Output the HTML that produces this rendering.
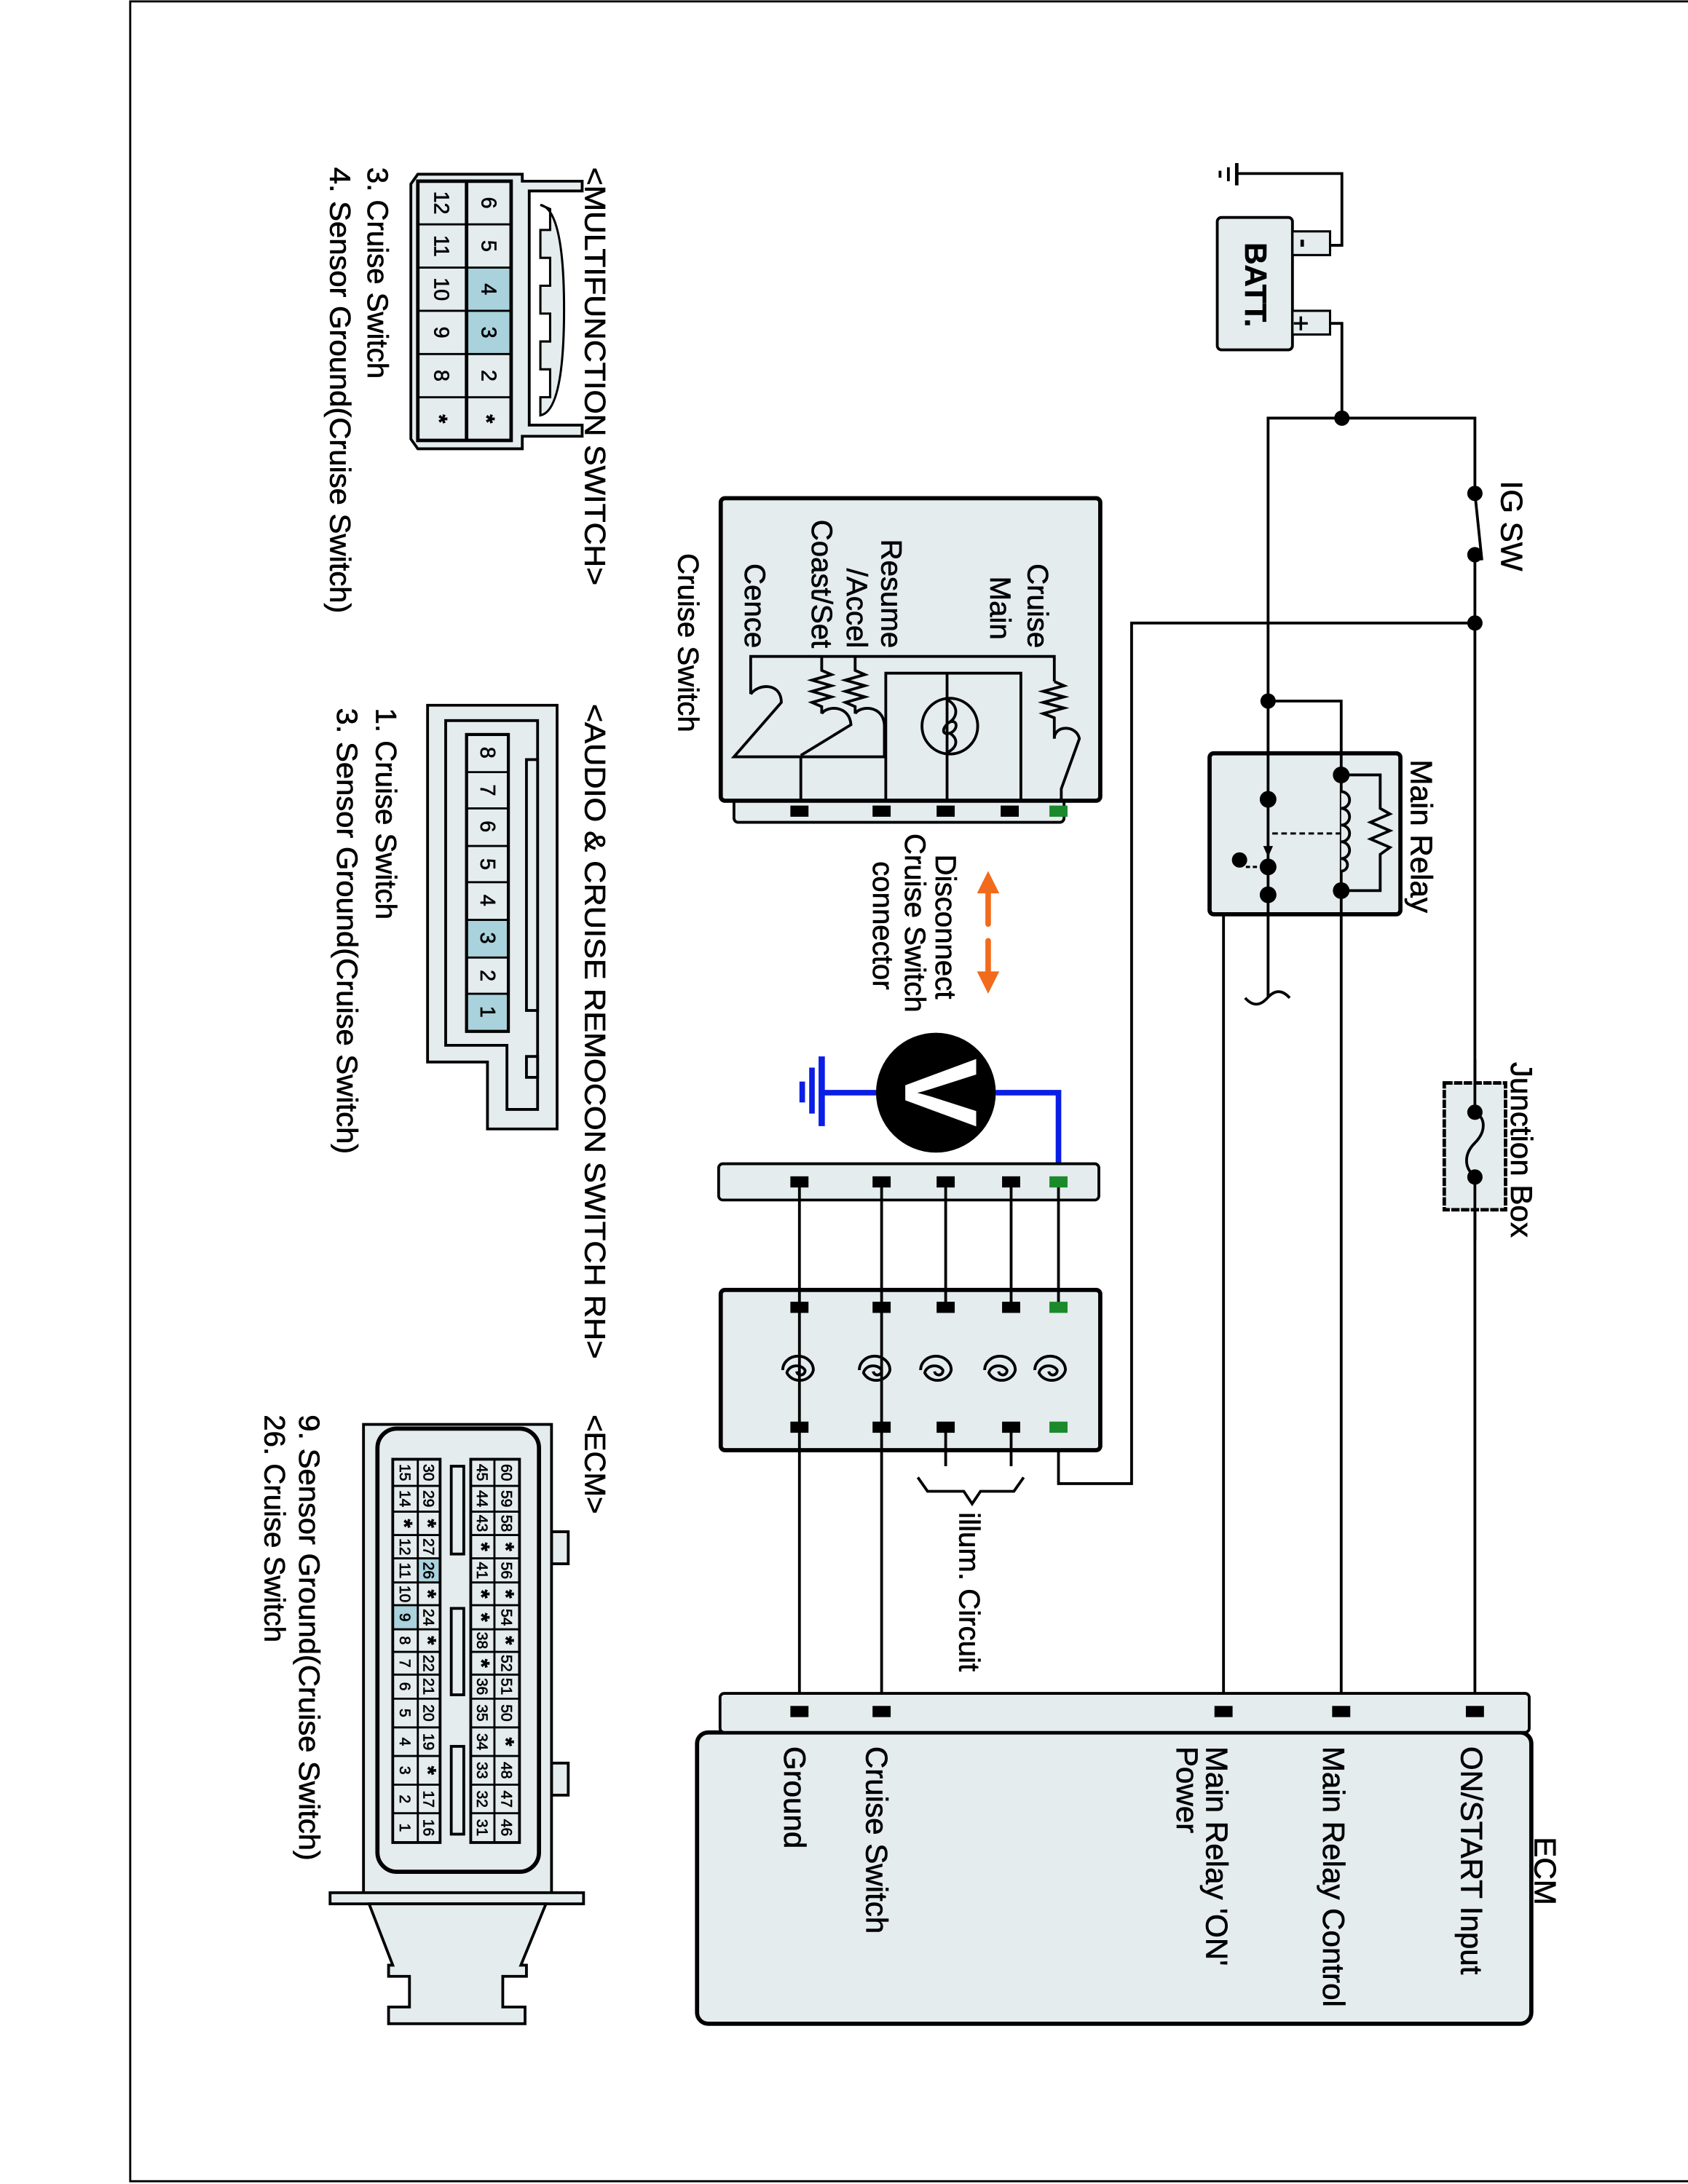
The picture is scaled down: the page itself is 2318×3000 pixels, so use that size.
<!DOCTYPE html>
<html><head><meta charset="utf-8"><style>
html,body{margin:0;padding:0;background:#fff;}
svg{display:block;}
text{font-family:"Liberation Sans",Arial,sans-serif;fill:#000;stroke:#000;stroke-width:0.35;}
.ast{font-weight:bold;font-size:16px;}
</style></head><body>
<svg width="2318" height="3000" viewBox="0 0 1212 1567" preserveAspectRatio="none" xmlns="http://www.w3.org/2000/svg">
<rect x="0" y="0" width="1212" height="1567" fill="#fff"/>
<rect x="93.5" y="1" width="1130" height="1564" fill="none" stroke="#000" stroke-width="1.5"/>

<g stroke="#000" stroke-width="2" fill="none">
<polyline points="888,124.5 963.5,124.5 963.5,176 955,176"/>
<line x1="888" y1="117" x2="888" y2="133" stroke-width="2.5"/>
<line x1="882" y1="120" x2="882" y2="130"/>
<line x1="876" y1="122.5" x2="876" y2="127.5"/>
<polyline points="955,232 963.5,232 963.5,300"/>
<polyline points="910.5,715 910.5,300 1059,300 1059,354"/>
<line x1="1059" y1="354" x2="1064" y2="402"/>
<line x1="1059" y1="398" x2="1059" y2="1222"/>
<polyline points="1059,447 812.5,447 812.5,1064.5 760,1064.5 760,1024"/>
<polyline points="910.5,503 963,503 963,1222"/>
<polyline points="910.5,642 878.5,642 878.5,1222"/>
<path d="M894,716 q8,9 16,0 q8,-9 16,0"/>
</g>

<rect x="874" y="156" width="54" height="95" rx="3" fill="#e4ecee" stroke="#000" stroke-width="2"/>
<rect x="928" y="166" width="27" height="17" fill="#e4ecee" stroke="#000" stroke-width="1.6"/>
<rect x="928" y="223" width="27" height="17" fill="#e4ecee" stroke="#000" stroke-width="1.6"/>
<line x1="935" y1="172" x2="935" y2="177" stroke="#000" stroke-width="2.5"/>
<path d="M934,227 v10 M929,232 h10" stroke="#000" stroke-width="1.8"/>
<text transform="translate(894,174) rotate(90)" font-size="22" font-weight="bold">BATT.</text>

<g fill="#000">
<circle cx="963.5" cy="300" r="5.5"/>
<circle cx="1059" cy="354" r="5.5"/>
<circle cx="1059" cy="398" r="5.5"/>
<circle cx="1059" cy="447" r="5.5"/>
<circle cx="910.5" cy="503" r="5.5"/>
</g>
<text transform="translate(1078,345) rotate(90)" font-size="22">IG SW</text>

<rect x="868.5" y="540.5" width="137" height="115.5" rx="3" fill="#e4ecee" stroke="#000" stroke-width="3"/>
<g stroke="#000" stroke-width="2" fill="none">
<line x1="910.5" y1="540" x2="910.5" y2="656"/>
<line x1="963" y1="540" x2="963" y2="656"/>
<polyline points="963,556 991,556 991,580 998,584 984,590 998,596 984,602 998,608 991,613 991,639 963,639"/>
<path d="M963,568 a6,6 0 0 1 0,12 a6,6 0 0 1 0,12 a6,6 0 0 1 0,12 a6,6 0 0 1 0,12 a4,4 0 0 1 0,9" fill="#e4ecee"/>
<line x1="963" y1="598" x2="911" y2="598" stroke-dasharray="4,2.5" stroke-width="1.6"/>
<polyline points="890,620 894,622 910,622" stroke-dasharray="3,2" stroke-width="1.6"/>
</g>
<path d="M907,607 l7,0 l-3.5,8 z" fill="#000"/>
<g fill="#000">
<circle cx="910.5" cy="573.5" r="6"/>
<circle cx="910.5" cy="622" r="6"/>
<circle cx="910.5" cy="642" r="6"/>
<circle cx="890" cy="617" r="5.5"/>
<circle cx="963" cy="556" r="6"/>
<circle cx="963" cy="639" r="6"/>
</g>
<text transform="translate(1013,545) rotate(90)" font-size="22">Main Relay</text>

<rect x="1037" y="777" width="44" height="91" fill="#e4ecee" stroke="#000" stroke-width="2.5" stroke-dasharray="6,1"/>
<line x1="1059" y1="760" x2="1059" y2="800" stroke="#000" stroke-width="2"/>
<line x1="1059" y1="844" x2="1059" y2="890" stroke="#000" stroke-width="2"/>
<path d="M1059,798 c8,4 8,14 0,22 c-8,8 -8,18 0,24" fill="none" stroke="#000" stroke-width="2"/>
<circle cx="1059" cy="798" r="5.5" fill="#000"/>
<circle cx="1059" cy="844.5" r="5.5" fill="#000"/>
<text transform="translate(1085,762) rotate(90)" font-size="22">Junction Box</text>

<rect x="527" y="568" width="237" height="22" rx="3" fill="#e4ecee" stroke="#000" stroke-width="2"/>
<rect x="517.5" y="357.5" width="272.5" height="217" rx="3" fill="#e4ecee" stroke="#000" stroke-width="3"/>
<g stroke="#000" stroke-width="2" fill="none">
<polyline points="539,498 539,471 757,471 757,489"/>
<polyline points="757,489 764,492 749,496 764,500 749,504 764,508 749,512 757,515 757,530"/>
<path d="M757,530 c0,-10 16,-10 18,0 l-13,36 v9"/>
<polyline points="636,575 636,483 733,483 733,575"/>
<line x1="680" y1="483" x2="680" y2="575"/>
<circle cx="682" cy="521" r="20"/>
<path d="M680,502 c8,4 8,12 2,16 c-6,4 -6,10 0,8 c6,-2 6,-10 0,-8 M680,540 c8,-4 8,-10 2,-14"/>
<polyline points="614,471 614,481 621,484 607,488 621,492 607,496 621,500 607,504 614,507 614,512"/>
<path d="M614,512 c4,-6 20,-6 21,8 v23 h-60"/>
<polyline points="590,471 590,481 597,484 583,488 597,492 583,496 597,500 583,504 590,507 590,512"/>
<path d="M590,512 c4,-6 20,-6 21,8 l-36,22"/>
<path d="M539,498 c6,-8 22,-8 22,6 l-34,39 h48 v32"/>
</g>
<g fill="#000">
<rect x="567.5" y="578" width="13" height="8"/>
<rect x="626.5" y="578" width="13" height="8"/>
<rect x="672.5" y="578" width="13" height="8"/>
<rect x="718.5" y="578" width="13" height="8"/>
<rect x="753.5" y="578" width="13" height="8" fill="#1a8a2a"/>
</g>
<text transform="translate(738,465) rotate(90)" font-size="21" text-anchor="end">Cruise</text>
<text transform="translate(711,459) rotate(90)" font-size="21" text-anchor="end">Main</text>
<text transform="translate(633,465) rotate(90)" font-size="21" text-anchor="end">Resume</text>
<text transform="translate(608,465) rotate(90)" font-size="21" text-anchor="end">/Accel</text>
<text transform="translate(583,465) rotate(90)" font-size="21" text-anchor="end">Coast/Set</text>
<text transform="translate(535,465) rotate(90)" font-size="21" text-anchor="end">Cence</text>
<text transform="translate(487,397) rotate(90)" font-size="21">Cruise Switch</text>

<g fill="#f26a1b">
<path d="M701.5,641 l8,-16 l8,16 z"/><rect x="707.5" y="638" width="4" height="27" rx="2"/>
<path d="M701.5,697 l8,16 l8,-16 z"/><rect x="707.5" y="673" width="4" height="27" rx="2"/>
</g>
<text transform="translate(672,613) rotate(90)" font-size="21">Disconnect</text>
<text transform="translate(650,598) rotate(90)" font-size="21">Cruise Switch</text>
<text transform="translate(627,618) rotate(90)" font-size="21">connector</text>

<g stroke="#0a1ee6" stroke-width="4" fill="none">
<polyline points="715,784 760,784 760,843"/>
<line x1="630" y1="784" x2="590" y2="784"/>
<line x1="590" y1="758" x2="590" y2="808" stroke-width="4.5"/>
<line x1="583" y1="766" x2="583" y2="799"/>
<line x1="576" y1="776" x2="576" y2="791"/>
</g>
<circle cx="672" cy="784" r="43" fill="#000"/>
<text transform="translate(650,784) rotate(90)" font-size="74" font-weight="bold" text-anchor="middle" style="fill:#fff;stroke:none">V</text>

<rect x="516" y="835" width="273" height="26" rx="3" fill="#e4ecee" stroke="#000" stroke-width="2"/>
<rect x="517.5" y="925.5" width="272.5" height="115" rx="3" fill="#e4ecee" stroke="#000" stroke-width="3"/>
<g stroke="#000" stroke-width="2" fill="none">
<line x1="574" y1="848" x2="574" y2="1222"/>
<line x1="633" y1="848" x2="633" y2="1222"/>
<line x1="679" y1="848" x2="679" y2="938"/>
<line x1="726" y1="848" x2="726" y2="938"/>
<line x1="760" y1="848" x2="760" y2="938"/>
<line x1="679" y1="1024" x2="679" y2="1052"/>
<line x1="726" y1="1024" x2="726" y2="1052"/>
<polyline points="659,1060 666,1070 692,1070 698,1079 704,1070 728,1070 735,1060"/>
</g>
<g fill="#000">
<rect x="567.5" y="844" width="13" height="8"/><rect x="626.5" y="844" width="13" height="8"/>
<rect x="672.5" y="844" width="13" height="8"/><rect x="719.5" y="844" width="13" height="8"/>
<rect x="753.5" y="844" width="13" height="8" fill="#1a8a2a"/>
<rect x="567.5" y="934" width="13" height="8"/><rect x="626.5" y="934" width="13" height="8"/>
<rect x="672.5" y="934" width="13" height="8"/><rect x="719.5" y="934" width="13" height="8"/>
<rect x="753.5" y="934" width="13" height="8" fill="#1a8a2a"/>
<rect x="567.5" y="1020" width="13" height="8"/><rect x="626.5" y="1020" width="13" height="8"/>
<rect x="672.5" y="1020" width="13" height="8"/><rect x="719.5" y="1020" width="13" height="8"/>
<rect x="753.5" y="1020" width="13" height="8" fill="#1a8a2a"/>
</g>
<g stroke="#000" stroke-width="2" fill="none">
<path d="M562,983 a11,10 0 1 1 22,0 a10,9 0 0 1 -19,2 a7,6 0 0 1 13,-2 a3,3 0 0 1 -6,1"/>
<path d="M617,983 a11,10 0 1 1 22,0 a10,9 0 0 1 -19,2 a7,6 0 0 1 13,-2 a3,3 0 0 1 -6,1"/>
<path d="M661,983 a11,10 0 1 1 22,0 a10,9 0 0 1 -19,2 a7,6 0 0 1 13,-2 a3,3 0 0 1 -6,1"/>
<path d="M707,983 a11,10 0 1 1 22,0 a10,9 0 0 1 -19,2 a7,6 0 0 1 13,-2 a3,3 0 0 1 -6,1"/>
<path d="M743,983 a11,10 0 1 1 22,0 a10,9 0 0 1 -19,2 a7,6 0 0 1 13,-2 a3,3 0 0 1 -6,1"/>
</g>
<text transform="translate(689,1085) rotate(90)" font-size="21">illum. Circuit</text>

<rect x="500.5" y="1243" width="599" height="209" rx="8" fill="#e4ecee" stroke="#000" stroke-width="3"/>
<rect x="517" y="1215" width="581" height="28" rx="3" fill="#e4ecee" stroke="#000" stroke-width="2"/>
<g fill="#000">
<rect x="567.5" y="1224" width="13" height="8"/><rect x="626.5" y="1224" width="13" height="8"/>
<rect x="872" y="1224" width="13" height="8"/><rect x="956.5" y="1224" width="13" height="8"/>
<rect x="1052.5" y="1224" width="13" height="8"/>
</g>
<text transform="translate(1102,1318) rotate(90)" font-size="22">ECM</text>
<text transform="translate(1049,1253) rotate(90)" font-size="22">ON/START Input</text>
<text transform="translate(950,1253) rotate(90)" font-size="22">Main Relay Control</text>
<text transform="translate(866,1253) rotate(90)" font-size="22">Main Relay 'ON'</text>
<text transform="translate(845,1253) rotate(90)" font-size="22">Power</text>
<text transform="translate(622,1253) rotate(90)" font-size="22">Cruise Switch</text>
<text transform="translate(563,1253) rotate(90)" font-size="22">Ground</text>

<text transform="translate(420,120) rotate(90)" font-size="21" textLength="300" lengthAdjust="spacingAndGlyphs">&lt;MULTIFUNCTION SWITCH&gt;</text>
<text transform="translate(264,120) rotate(90)" font-size="21">3. Cruise Switch</text>
<text transform="translate(237,120) rotate(90)" font-size="21" textLength="320" lengthAdjust="spacingAndGlyphs">4. Sensor Ground(Cruise Switch)</text>
<g stroke="#000" stroke-width="2" fill="#e4ecee">
<path d="M300,125 L375,125 L375,130 L418,130 L418,137 L380,137 L380,305 L418,305 L418,313 L375,313 L375,322 L300,322 L295,315 L295,132 Z"/>
<path d="M388,147 Q405,150 405,222 Q405,295 388,298 L388,285 L395,285 L395,265 L388,265 L388,245 L395,245 L395,225 L388,225 L388,205 L395,205 L395,185 L388,185 L388,165 L395,165 L395,150 Z" stroke-width="1.6"/>
<rect x="300" y="130" width="67" height="186"/>
</g>
<rect x="335" y="192" width="32" height="62" fill="#a9d2dc"/>
<g stroke="#000" stroke-width="1.5" fill="none">
<rect x="300" y="130" width="67" height="186" stroke-width="2.5"/>
<line x1="335" y1="130" x2="335" y2="316" stroke-width="2.5"/>
<line x1="300" y1="161" x2="367" y2="161"/><line x1="300" y1="192" x2="367" y2="192"/>
<line x1="300" y1="223" x2="367" y2="223"/><line x1="300" y1="254" x2="367" y2="254"/>
<line x1="300" y1="285" x2="367" y2="285"/>
</g>
<g font-size="15" text-anchor="middle">
<text transform="translate(346,145.5) rotate(90)">6</text><text transform="translate(346,176.5) rotate(90)">5</text>
<text transform="translate(346,207.5) rotate(90)">4</text><text transform="translate(346,238.5) rotate(90)">3</text>
<text transform="translate(346,269.5) rotate(90)">2</text><text class="ast" transform="translate(344,300.5) rotate(90)" font-size="20">*</text>
<text transform="translate(312,145.5) rotate(90)">12</text><text transform="translate(312,176.5) rotate(90)">11</text>
<text transform="translate(312,207.5) rotate(90)">10</text><text transform="translate(312,238.5) rotate(90)">9</text>
<text transform="translate(312,269.5) rotate(90)">8</text><text class="ast" transform="translate(310,300.5) rotate(90)" font-size="20">*</text>
</g>

<text transform="translate(420,505) rotate(90)" font-size="21" textLength="470" lengthAdjust="spacingAndGlyphs">&lt;AUDIO &amp; CRUISE REMOCON SWITCH RH&gt;</text>
<text transform="translate(270,508) rotate(90)" font-size="21">1. Cruise Switch</text>
<text transform="translate(242,508) rotate(90)" font-size="21" textLength="320" lengthAdjust="spacingAndGlyphs">3. Sensor Ground(Cruise Switch)</text>
<g stroke="#000" stroke-width="2" fill="#e4ecee">
<path d="M307,506 L400,506 L400,810 L350,810 L350,762 L307,762 Z"/>
<path d="M320,517 L386,517 L386,796 L364,796 L364,750 L320,750 Z" fill="none"/>
<rect x="378" y="545" width="8" height="180" fill="#e4ecee"/>
<rect x="378" y="758" width="8" height="15" fill="#e4ecee"/>
<rect x="335" y="527" width="30" height="213"/>
</g>
<rect x="335" y="660" width="30" height="27" fill="#a9d2dc"/>
<rect x="335" y="713" width="30" height="27" fill="#a9d2dc"/>
<g stroke="#000" stroke-width="1.5">
<rect x="335" y="527" width="30" height="213" fill="none" stroke-width="2.2"/>
<line x1="335" y1="554" x2="365" y2="554"/><line x1="335" y1="580" x2="365" y2="580"/>
<line x1="335" y1="607" x2="365" y2="607"/><line x1="335" y1="633" x2="365" y2="633"/>
<line x1="335" y1="660" x2="365" y2="660"/><line x1="335" y1="687" x2="365" y2="687"/>
<line x1="335" y1="713" x2="365" y2="713"/>
</g>
<g font-size="15" text-anchor="middle">
<text transform="translate(345,540) rotate(90)">8</text><text transform="translate(345,567) rotate(90)">7</text>
<text transform="translate(345,593) rotate(90)">6</text><text transform="translate(345,620) rotate(90)">5</text>
<text transform="translate(345,646) rotate(90)">4</text><text transform="translate(345,673) rotate(90)">3</text>
<text transform="translate(345,700) rotate(90)">2</text><text transform="translate(345,726) rotate(90)">1</text>
</g>

<text transform="translate(420,1015) rotate(90)" font-size="21">&lt;ECM&gt;</text>
<text transform="translate(215,1015) rotate(90)" font-size="21" textLength="320" lengthAdjust="spacingAndGlyphs">9. Sensor Ground(Cruise Switch)</text>
<text transform="translate(190,1015) rotate(90)" font-size="21">26. Cruise Switch</text>
<g stroke="#000" stroke-width="2" fill="#e4ecee">
<rect x="396" y="1099" width="12" height="23"/>
<rect x="396" y="1265" width="12" height="23"/>
<rect x="261" y="1022" width="135" height="336"/>
<rect x="271" y="1025" width="116" height="318" rx="14" stroke-width="3"/>
<rect x="237" y="1358" width="182" height="8"/>
<path d="M265,1366 L392,1366 L374,1410 L378,1410 L378,1418 L361,1418 L361,1440 L377,1440 L377,1452 L279,1452 L279,1440 L294,1440 L294,1418 L279,1418 L279,1410 L282,1410 Z"/>
<rect x="324" y="1052" width="9" height="63"/>
<rect x="324" y="1154" width="9" height="62"/>
<rect x="324" y="1253" width="9" height="63"/>
</g>
<g stroke="#000" stroke-width="1.6">
<rect x="282" y="1047" width="34" height="275" fill="#e4ecee"/>
<rect x="338" y="1047" width="35" height="275" fill="#e4ecee"/>
</g>
<rect x="300" y="1118.1" width="16" height="17.3" fill="#a9d2dc"/>
<rect x="282" y="1151.7" width="18" height="17.3" fill="#a9d2dc"/>
<g stroke="#000" stroke-width="1.5" fill="none">
<rect x="282" y="1047" width="34" height="275" stroke-width="2"/>
<rect x="338" y="1047" width="35" height="275" stroke-width="2"/>
<line x1="300" y1="1047" x2="300" y2="1322"/><line x1="355" y1="1047" x2="355" y2="1322"/>
<path d="M282,1066.1h34M282,1084.6h34M282,1101.4h34M282,1118.1h34M282,1135.4h34M282,1151.7h34M282,1169h34M282,1185.2h34M282,1201.5h34M282,1218.8h34M282,1239.4h34M282,1259.9h34M282,1280.5h34M282,1301h34"/>
<path d="M338,1066.1h35M338,1084.6h35M338,1101.4h35M338,1118.1h35M338,1135.4h35M338,1151.7h35M338,1169h35M338,1185.2h35M338,1201.5h35M338,1218.8h35M338,1239.4h35M338,1259.9h35M338,1280.5h35M338,1301h35"/>
</g>
<g font-size="11" text-anchor="middle">
<text transform="translate(360,1056.5) rotate(90)">60</text><text transform="translate(360,1075.3) rotate(90)">59</text><text transform="translate(360,1093) rotate(90)">58</text><text class="ast" transform="translate(358,1109.8) rotate(90)">*</text><text transform="translate(360,1126.8) rotate(90)">56</text><text class="ast" transform="translate(358,1143.6) rotate(90)">*</text><text transform="translate(360,1160.4) rotate(90)">54</text><text class="ast" transform="translate(358,1177) rotate(90)">*</text><text transform="translate(360,1193.4) rotate(90)">52</text><text transform="translate(360,1210) rotate(90)">51</text><text transform="translate(360,1229) rotate(90)">50</text><text class="ast" transform="translate(358,1249.7) rotate(90)">*</text><text transform="translate(360,1270.2) rotate(90)">48</text><text transform="translate(360,1290.8) rotate(90)">47</text><text transform="translate(360,1311.3) rotate(90)">46</text>
<text transform="translate(342.5,1056.5) rotate(90)">45</text><text transform="translate(342.5,1075.3) rotate(90)">44</text><text transform="translate(342.5,1093) rotate(90)">43</text><text class="ast" transform="translate(340.5,1109.8) rotate(90)">*</text><text transform="translate(342.5,1126.8) rotate(90)">41</text><text class="ast" transform="translate(340.5,1143.6) rotate(90)">*</text><text class="ast" transform="translate(340.5,1160.4) rotate(90)">*</text><text transform="translate(342.5,1177) rotate(90)">38</text><text class="ast" transform="translate(340.5,1193.4) rotate(90)">*</text><text transform="translate(342.5,1210) rotate(90)">36</text><text transform="translate(342.5,1229) rotate(90)">35</text><text transform="translate(342.5,1249.7) rotate(90)">34</text><text transform="translate(342.5,1270.2) rotate(90)">33</text><text transform="translate(342.5,1290.8) rotate(90)">32</text><text transform="translate(342.5,1311.3) rotate(90)">31</text>
<text transform="translate(304,1056.5) rotate(90)">30</text><text transform="translate(304,1075.3) rotate(90)">29</text><text class="ast" transform="translate(302,1093) rotate(90)">*</text><text transform="translate(304,1109.8) rotate(90)">27</text><text transform="translate(304,1126.8) rotate(90)">26</text><text class="ast" transform="translate(302,1143.6) rotate(90)">*</text><text transform="translate(304,1160.4) rotate(90)">24</text><text class="ast" transform="translate(302,1177) rotate(90)">*</text><text transform="translate(304,1193.4) rotate(90)">22</text><text transform="translate(304,1210) rotate(90)">21</text><text transform="translate(304,1229) rotate(90)">20</text><text transform="translate(304,1249.7) rotate(90)">19</text><text class="ast" transform="translate(302,1270.2) rotate(90)">*</text><text transform="translate(304,1290.8) rotate(90)">17</text><text transform="translate(304,1311.3) rotate(90)">16</text>
<text transform="translate(287,1056.5) rotate(90)">15</text><text transform="translate(287,1075.3) rotate(90)">14</text><text class="ast" transform="translate(285,1093) rotate(90)">*</text><text transform="translate(287,1109.8) rotate(90)">12</text><text transform="translate(287,1126.8) rotate(90)">11</text><text transform="translate(287,1143.6) rotate(90)">10</text><text transform="translate(287,1160.4) rotate(90)">9</text><text transform="translate(287,1177) rotate(90)">8</text><text transform="translate(287,1193.4) rotate(90)">7</text><text transform="translate(287,1210) rotate(90)">6</text><text transform="translate(287,1229) rotate(90)">5</text><text transform="translate(287,1249.7) rotate(90)">4</text><text transform="translate(287,1270.2) rotate(90)">3</text><text transform="translate(287,1290.8) rotate(90)">2</text><text transform="translate(287,1311.3) rotate(90)">1</text>
</g>
</svg>
</body></html>
